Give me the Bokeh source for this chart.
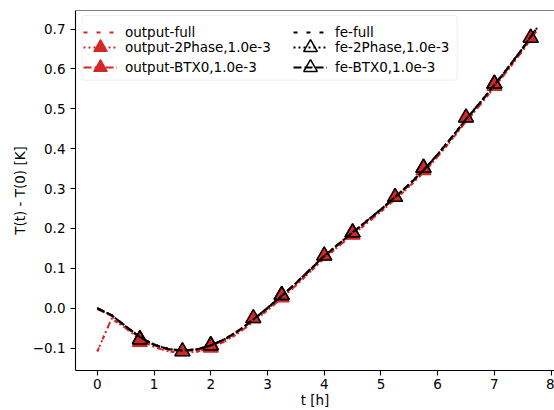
from bokeh.plotting import figure
from bokeh.models import (Legend, LegendItem, FixedTicker, Span,
                          BoxAnnotation, PrintfTickFormatter, Range1d)
from bokeh.embed import file_html
from bokeh.resources import INLINE

# ---------------- data ----------------
t = [0.0, 0.25, 0.5, 0.75, 1.0, 1.25, 1.5, 1.75, 2.0, 2.25, 2.5, 2.75, 3.0, 3.25, 3.5, 3.75,
     4.0, 4.25, 4.5, 4.75, 5.0, 5.25, 5.5, 5.75, 6.0, 6.25, 6.5, 6.75, 7.0, 7.25, 7.5, 7.75]

out_full = [-0.108, -0.026, -0.050, -0.078, -0.097, -0.108, -0.112, -0.109, -0.099, -0.083,
            -0.061, -0.034, -0.005, 0.025, 0.057, 0.091, 0.125, 0.155, 0.184, 0.213, 0.242,
            0.273, 0.305, 0.340, 0.380, 0.423, 0.468, 0.510, 0.554, 0.599, 0.646, 0.697]
out_2phase = [-0.108, -0.026, -0.050, -0.078, -0.097, -0.108, -0.112, -0.109, -0.099, -0.083,
              -0.061, -0.034, -0.005, 0.025, 0.057, 0.091, 0.125, 0.155, 0.184, 0.213, 0.242,
              0.273, 0.305, 0.340, 0.380, 0.423, 0.468, 0.510, 0.554, 0.599, 0.646, 0.697]
out_btx0 = [-0.002, -0.019, -0.047, -0.074, -0.093, -0.104, -0.108, -0.105, -0.095, -0.079,
            -0.057, -0.030, -0.001, 0.029, 0.061, 0.095, 0.129, 0.159, 0.188, 0.217, 0.246,
            0.277, 0.309, 0.344, 0.384, 0.427, 0.472, 0.514, 0.558, 0.603, 0.650, 0.701]
fe_full = [0.0, -0.017, -0.045, -0.072, -0.091, -0.102, -0.106, -0.103, -0.093, -0.077,
           -0.055, -0.028, 0.001, 0.031, 0.063, 0.097, 0.131, 0.161, 0.190, 0.219, 0.248,
           0.279, 0.311, 0.346, 0.386, 0.429, 0.474, 0.516, 0.560, 0.605, 0.652, 0.703]
fe_2phase = [0.0, -0.017, -0.045, -0.072, -0.091, -0.102, -0.106, -0.103, -0.093, -0.077,
             -0.055, -0.028, 0.001, 0.031, 0.063, 0.097, 0.131, 0.161, 0.190, 0.219, 0.248,
             0.279, 0.311, 0.346, 0.386, 0.429, 0.474, 0.516, 0.560, 0.605, 0.652, 0.703]
fe_btx0 = [0.0, -0.017, -0.045, -0.072, -0.091, -0.102, -0.106, -0.103, -0.093, -0.077,
           -0.055, -0.028, 0.001, 0.031, 0.063, 0.097, 0.131, 0.161, 0.190, 0.219, 0.248,
           0.279, 0.311, 0.346, 0.386, 0.429, 0.474, 0.516, 0.560, 0.605, 0.652, 0.703]

t_mark_2phase = [0.75, 2.0, 3.25, 4.5, 5.75, 7.0]
out_mark_2phase = [-0.085, -0.099, 0.027, 0.184, 0.346, 0.557]
fe_mark_2phase = [-0.078, -0.093, 0.033, 0.190, 0.352, 0.563]

t_mark_btx0 = [0.75, 1.5, 2.0, 2.75, 3.25, 4.0, 4.5, 5.25, 5.75, 6.5, 7.0, 7.64]
out_mark_btx0 = [-0.078, -0.108, -0.093, -0.025, 0.033, 0.132, 0.190, 0.279, 0.352, 0.478, 0.563, 0.678]
fe_mark_btx0 = [-0.078, -0.108, -0.093, -0.025, 0.033, 0.132, 0.190, 0.279, 0.352, 0.478, 0.563, 0.678]

labels = ["output-full", "output-2Phase,1.0e-3", "output-BTX0,1.0e-3",
          "fe-full", "fe-2Phase,1.0e-3", "fe-BTX0,1.0e-3"]
x_ticks = [0, 1, 2, 3, 4, 5, 6, 7, 8]
y_ticks = [-0.1, 0.0, 0.1, 0.2, 0.3, 0.4, 0.5, 0.6, 0.7]
x_title = "t [h]"
y_title = "T(t) - T(0) [K]"

# ---------------- styling ----------------
RED = "#d62728"
BLACK = "#000000"
FONT = "DejaVu Sans"
FS = "13.5px"
Y0, Y1 = -0.156, 0.7465
X0, X1 = -0.385, 8.06

p = figure(width=554, height=410, output_backend="svg", toolbar_location=None,
           x_range=Range1d(X0, X1), y_range=Range1d(Y0, Y1),
           min_border_left=75, min_border_right=0, min_border_top=10, min_border_bottom=39)
p.outline_line_color = None
p.grid.visible = False
p.background_fill_color = "white"
p.border_fill_color = "white"

LW = 2
sz = 15

r_of = p.line(t, out_full, line_color=RED, line_width=LW, line_dash="4 9")
r_o2 = p.line(t, out_2phase, line_color=RED, line_width=LW, line_dash="2 3")
s_o2 = p.scatter(t_mark_2phase, out_mark_2phase, marker="triangle", size=sz,
                 fill_color=RED, line_color=RED, line_width=1.2)
r_ob = p.line(t, out_btx0, line_color=RED, line_width=LW, line_dash="8 3")
s_ob = p.scatter(t_mark_btx0, out_mark_btx0, marker="triangle", size=sz,
                 fill_color=RED, line_color=RED, line_width=1.2)
r_ff = p.line(t, fe_full, line_color=BLACK, line_width=LW, line_dash="4 9")
r_f2 = p.line(t, fe_2phase, line_color=BLACK, line_width=LW, line_dash="2 3")
s_f2 = p.scatter(t_mark_2phase, fe_mark_2phase, marker="triangle", size=sz,
                 fill_color=None, line_color=BLACK, line_width=1.5)
r_fb = p.line(t, fe_btx0, line_color=BLACK, line_width=LW, line_dash="8 3")
s_fb = p.scatter(t_mark_btx0, fe_mark_btx0, marker="triangle", size=sz,
                 fill_color=None, line_color=BLACK, line_width=1.5)

# axes
for ax in (p.xaxis[0], p.yaxis[0]):
    ax.axis_line_color = BLACK
    ax.axis_line_width = 1.1
    ax.major_tick_line_color = BLACK
    ax.major_tick_line_width = 1.1
    ax.major_tick_out = 5
    ax.major_tick_in = 0
    ax.minor_tick_line_color = None
    ax.major_label_text_font = FONT
    ax.major_label_text_font_size = FS
    ax.major_label_text_color = BLACK
    ax.major_label_text_line_height = 1.0
    ax.axis_label_text_font = FONT
    ax.axis_label_text_font_size = FS
    ax.axis_label_text_font_style = "normal"
    ax.axis_label_text_color = BLACK
    ax.axis_label_text_line_height = 1.0

p.xaxis.ticker = FixedTicker(ticks=x_ticks)
p.xaxis.major_label_standoff = 3
p.xaxis.axis_label = x_title
p.xaxis.axis_label_standoff = 0

p.yaxis.ticker = FixedTicker(ticks=y_ticks)
p.yaxis.formatter = PrintfTickFormatter(format="%.1f")
p.yaxis.major_label_overrides = {-0.1: "\u22120.1"}
p.yaxis.major_label_standoff = 5
p.yaxis.axis_label = y_title
p.yaxis.axis_label_standoff = 2

# top spine
p.add_layout(Span(location=Y1, dimension="width", line_color=BLACK, line_width=1.1))

# legend frame (screen units, relative to the plot frame's bottom-left)
box = BoxAnnotation(left=6.7, right=381.7, top=355, bottom=290.3,
                    left_units="screen", right_units="screen",
                    top_units="screen", bottom_units="screen",
                    fill_color="white", fill_alpha=0.8,
                    line_color="#cccccc", line_width=1, border_radius=3)
p.add_layout(box)

rows = [
    ([LegendItem(label=labels[0], renderers=[r_of]),
      LegendItem(label=labels[3], renderers=[r_ff])], 321.0),
    ([LegendItem(label=labels[1], renderers=[r_o2, s_o2]),
      LegendItem(label=labels[4], renderers=[r_f2, s_f2])], 305.7),
    ([LegendItem(label=labels[2], renderers=[r_ob, s_ob]),
      LegendItem(label=labels[5], renderers=[r_fb, s_fb])], 285.7),
]
for its, vy in rows:
    lg = Legend(items=its, orientation="horizontal", location=(8, vy), margin=0, padding=0,
                glyph_width=34, glyph_height=34, spacing=3, label_standoff=8,
                label_width=165, label_text_font=FONT, label_text_font_size=FS,
                label_text_color=BLACK, border_line_color=None,
                background_fill_alpha=0)
    p.add_layout(lg)

open("out.html", "w").write(file_html(p, INLINE))
